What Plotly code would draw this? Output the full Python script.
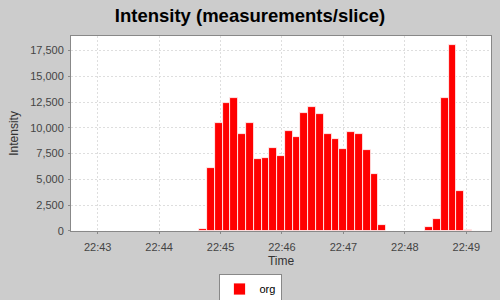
import plotly.graph_objects as go
import pandas as pd

# ---- data ----
series_name = "org"
bin_start = "2009-01-01 22:42:52.6"   # start of first 7.6 s slice
bin_seconds = 7.61
intensity = [
    0, 0, 0, 0, 0, 0, 0, 0, 0, 0, 0, 0, 0, 0,
    190, 6080, 10450, 12400, 12880, 9370, 10510, 6935, 7090, 8075,
    7220, 9690, 9120, 11400, 12065, 11305, 9370, 8895, 7945, 9595,
    9370, 7820, 5510, 550, 0, 0, 0, 0, 0, 340,
    1200, 12920, 18010, 3895, 60,
]
y_ticks = [0, 2500, 5000, 7500, 10000, 12500, 15000, 17500]

# ---- derived positions (time slices) ----
start = pd.Timestamp(bin_start)
width = pd.Timedelta(seconds=bin_seconds)
centers = [start + width * i + width / 2 for i in range(len(intensity))]
data_lo = start
data_hi = start + width * len(intensity)
span = data_hi - data_lo
x_range = [data_lo - span * 0.05, data_hi + span * 0.05]
y_max = max(intensity) * 1.05

font_family = "Liberation Sans, Arial, sans-serif"

fig = go.Figure()
fig.add_trace(go.Bar(
    x=centers,
    y=intensity,
    width=bin_seconds * 1000,
    name=series_name,
    marker=dict(color="#ff0000", line=dict(color="#ffffff", width=0.8)),
    showlegend=True,
))

axis_common = dict(
    showline=True, linecolor="#888888", linewidth=1, mirror=True,
    showgrid=True, gridcolor="#dedede", griddash="2px,2px", gridwidth=1,
    ticks="outside", ticklen=2, tickcolor="#888888",
    tickfont=dict(family=font_family, size=11, color="#444444"),
    zeroline=False,
)

fig.update_xaxes(
    type="date", range=x_range, tickformat="%H:%M", dtick=60000,
    tick0="2009-01-01 22:43:00", ticklabelstandoff=4,
    title=dict(text="Time", font=dict(family=font_family, size=12, color="#333333"), standoff=4),
    **axis_common,
)
fig.update_yaxes(
    range=[0, y_max], tickvals=y_ticks, tickformat=",d", ticklabelstandoff=2,
    title=dict(text="Intensity", font=dict(family=font_family, size=12, color="#333333"), standoff=8),
    **axis_common,
)

fig.update_layout(
    width=500, height=300,
    margin=dict(l=71, r=8, t=36, b=65),
    paper_bgcolor="#cccccc",
    plot_bgcolor="#ffffff",
    bargap=0,
    title=dict(text="<b>Intensity (measurements/slice)</b>", x=0.5, xref="container",
               xanchor="center", y=1 - 16 / 300, yanchor="middle",
               font=dict(family=font_family, size=18.5, color="#000000")),
    legend=dict(orientation="h", xref="container", yref="container",
                x=0.5, xanchor="center", y=1 - 289 / 300, yanchor="middle",
                bgcolor="#ffffff", bordercolor="#888888", borderwidth=1,
                font=dict(family=font_family, size=11, color="#000000"),
                itemwidth=30),
    font=dict(family=font_family),
)

fig.write_html("out.html")
